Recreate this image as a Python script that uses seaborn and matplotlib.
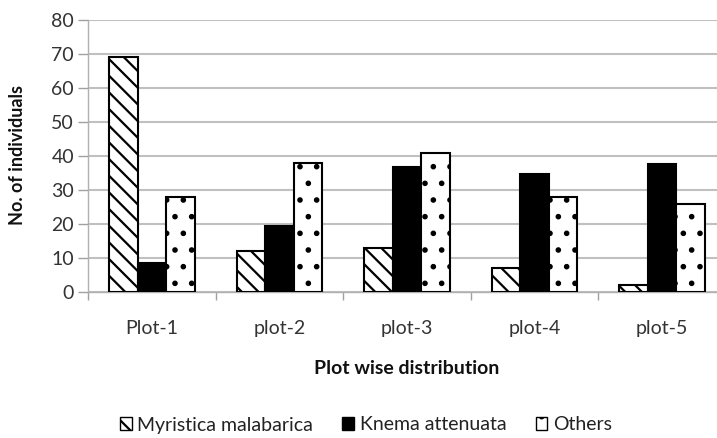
import matplotlib
matplotlib.use("Agg")
import matplotlib.pyplot as plt
import seaborn as sns
import pandas as pd
from matplotlib.patches import Patch

categories = ["Plot-1", "plot-2", "plot-3", "plot-4", "plot-5"]
series_names = ["Myristica malabarica", "Knema attenuata", "Others"]
myristica = [69, 12, 13, 7, 2]
knema = [8.5, 19.5, 36.8, 34.7, 37.6]
others = [28, 38, 41, 28, 26]

rows = []
for name, vals in zip(series_names, [myristica, knema, others]):
    for c, v in zip(categories, vals):
        rows.append({"plot": c, "species": name, "value": v})
df = pd.DataFrame(rows)

sns.set_theme(style="white")
plt.rcParams["font.family"] = ["Lato", "DejaVu Sans"]
plt.rcParams["hatch.linewidth"] = 1.6

fig = plt.figure(figsize=(7.17, 4.38), dpi=100)
ax = fig.add_axes([88 / 717, 146 / 438, 638 / 717, 272 / 438])

sns.barplot(data=df, x="plot", y="value", hue="species", order=categories,
            hue_order=series_names, width=0.67, ax=ax, legend=False,
            saturation=1, linewidth=1.5, edgecolor="black")

styles = [("white", "\\\\"), ("black", ""), ("white", ".")]
for cont, (fc, hatch) in zip(ax.containers, styles):
    for p in cont:
        p.set_facecolor(fc)
        p.set_edgecolor("black")
        p.set_hatch(hatch)
        p.set_zorder(3)

ax.set_xlim(-0.5, 4.5)
ax.set_ylim(0, 80)
ax.set_yticks(range(0, 81, 10))
ax.set_xticks([i - 0.5 for i in range(6)], minor=True)
ax.tick_params(axis="x", which="major", length=0, labelsize=14, pad=20, colors="#333333")
ax.tick_params(axis="x", which="minor", length=6, color="#a0a0a0", width=1, direction="out", bottom=True)
ax.tick_params(axis="y", length=7, color="#a0a0a0", width=1, labelsize=14, colors="#333333", left=True, pad=3)
ax.yaxis.grid(True, color="#c0c0c0", linewidth=1.5, zorder=0)
ax.set_axisbelow(True)
for s in ["top", "right"]:
    ax.spines[s].set_visible(False)
ax.spines["left"].set_color("#b0b0b0")
ax.spines["bottom"].set_color("#b0b0b0")
ax.spines["left"].set_linewidth(1)
ax.spines["bottom"].set_linewidth(1)

ax.set_ylabel("")
ax.set_xlabel("")
fig.text(18 / 717, 1 - 155 / 438, "No. of individuals", rotation=90,
         ha="center", va="center", fontsize=13, fontweight="bold", color="#111111")
fig.text(407 / 717, 1 - 369 / 438, "Plot wise distribution",
         ha="center", va="center", fontsize=14, fontweight="bold", color="#111111")

handles = [Patch(facecolor=fc, edgecolor="black", hatch=h, linewidth=1) for fc, h in styles]
fig.legend(handles, series_names, loc="center", bbox_to_anchor=(366 / 717, 1 - 425 / 438),
           ncol=3, frameon=False, fontsize=14, handlelength=0.6, handleheight=0.6,
           handletextpad=0.3, columnspacing=1.5, labelcolor="#222222")

fig.savefig("out.png", dpi=100)
